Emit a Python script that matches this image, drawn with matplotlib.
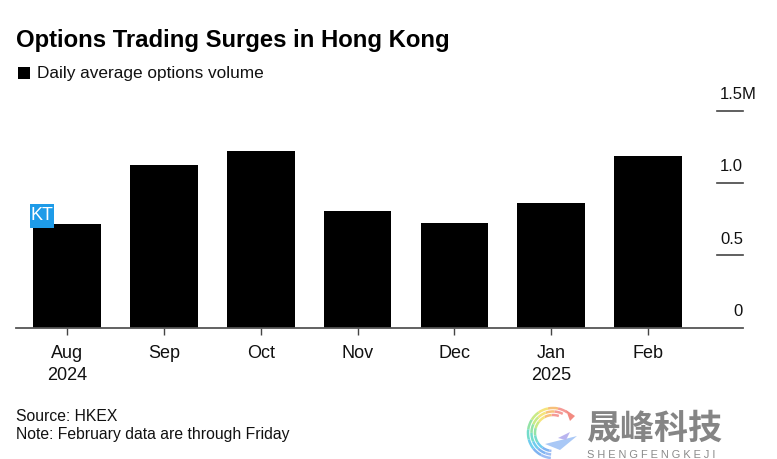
"""Options volume in Hong Kong, monthly bars"""

import matplotlib
matplotlib.use("Agg")
import matplotlib.pyplot as plt
from matplotlib.patches import Arc, Rectangle, Polygon

months = ["Aug\n2024", "Sep", "Oct", "Nov", "Dec", "Jan\n2025", "Feb"]
volume = [0.715, 1.122, 1.219, 0.805, 0.722, 0.86, 1.188]
y_ticks = [0, 0.5, 1.0, 1.5]
y_labels = ["0", "0.5", "1.0", "1.5M"]
# watermark colours going round the ring from top right to the bottom
ring_colors = ["#f59a96", "#f7c07a", "#f5e47c", "#c9ea86", "#93e3a6",
               "#74dccb", "#6fcdee", "#7fb4f2", "#9dbdf5"]

W, H = 777, 459

plt.rcParams["font.family"] = ["Liberation Sans", "DejaVu Sans"]

fig = plt.figure(figsize=(W / 100, H / 100), dpi=100)

# chart axes, placed in pixels: zero line at y=327.5, 1.5M at y=110.5
left, right = 16, 743
top, bottom = 110.5, 327.5
ax = fig.add_axes([left / W, 1 - bottom / H, (right - left) / W, (bottom - top) / H])
positions = list(range(len(months)))
ax.bar(positions, volume, width=0.7, color="black")
ax.set_ylim(0, 1.5)
# pixel spacing is 96.8 per bar, Aug centre at x=67
ax.set_xlim((left - 67.2) / 96.8, (right - 67.2) / 96.8)
for side in ["top", "left", "right"]:
    ax.spines[side].set_visible(False)
ax.spines["bottom"].set_color("#555555")
ax.spines["bottom"].set_linewidth(1.3)
ax.set_xticks(positions)
ax.set_xticklabels(months, fontsize=13, linespacing=1.42, color="#111111")
ax.tick_params(axis="x", length=5, width=1, color="#444444", pad=7.5)
ax.set_yticks([])
ax.patch.set_alpha(0)

# right hand scale, label sits above its rule
for val in y_ticks[1:]:
    ax.plot([(717 - left) / (right - left), 1], [val, val],
            color="#444444", lw=1.2, clip_on=False,
            transform=ax.get_yaxis_transform())
for val, lab in zip(y_ticks, y_labels):
    x = 743 if lab != "1.5M" else 757
    ax.annotate(lab, xy=(1, val), xycoords=ax.get_yaxis_transform(),
                xytext=(x - 743, 8.5), textcoords="offset pixels",
                ha="right", va="bottom", fontsize=12, color="#111111",
                annotation_clip=False)

# overlay in pixel coordinates for the header, footer and logos
over = fig.add_axes([0, 0, 1, 1])
over.set_xlim(0, W)
over.set_ylim(H, 0)
over.axis("off")
over.patch.set_alpha(0)

over.text(16, 40, "Options Trading Surges in Hong Kong", fontsize=17.2,
          fontweight="bold", color="black", va="center", ha="left")
over.add_patch(Rectangle((18, 67), 12, 12, color="black", lw=0))
over.text(37, 73.5, "Daily average options volume", fontsize=12.4,
          color="#111111", va="center", ha="left")
over.text(16, 416.5, "Source: HKEX", fontsize=11.35, color="#111111", va="center")
over.text(16, 434.5, "Note: February data are through Friday", fontsize=11.35,
          color="#111111", va="center")

# KT badge
over.add_patch(Rectangle((30, 204), 24, 24, color="#1e9be8", lw=0, zorder=5))
over.text(42, 216, "KT", fontsize=13, color="white", ha="center", va="center",
          zorder=6)

# watermark logo, thin bands cut into coloured segments round a C
step = 210 / len(ring_colors)
for r, shift in [(25, 0), (21.5, 8), (18, 16)]:
    for i, col in enumerate(ring_colors):
        start = 305 - shift - i * step
        over.add_patch(Arc((553, 433), 2 * r, 2 * r, angle=0,
                           theta1=max(start - step, 95), theta2=start,
                           color=col, lw=1.8))
over.add_patch(Polygon([[566, 410], [575, 416], [570, 421]], color="#f28a80", lw=0))
over.add_patch(Polygon([[545, 444], [577, 436], [560, 450]], color="#a9c8f6", lw=0))
over.add_patch(Polygon([[558, 438], [570, 432], [566, 440]], color="#b9b4ef", lw=0))

over.text(655, 428, "晟峰科技", fontsize=24.5, color="#858585", ha="center", va="center",
          fontweight="bold", family=["Noto Sans CJK SC", "DejaVu Sans"])
over.text(587, 454.5, "S H E N G F E N G K E J I", fontsize=7.9, color="#8a8a8a",
          ha="left", va="center")

fig.savefig("out.png", dpi=100)
